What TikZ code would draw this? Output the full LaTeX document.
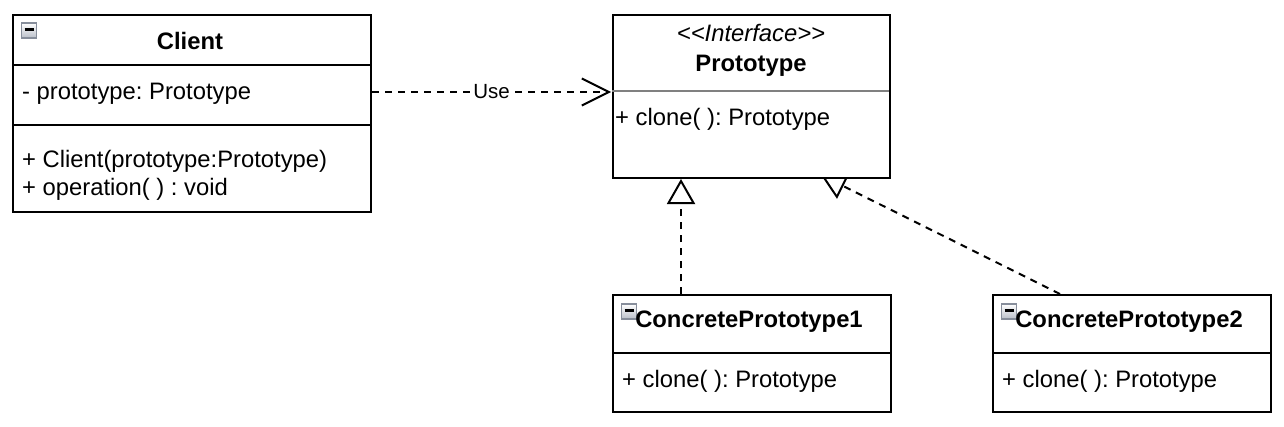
\documentclass[tikz,border=0pt]{standalone}
\usepackage{fontspec}
\setmainfont{Liberation Sans}
\usetikzlibrary{arrows.meta}
\pgfdeclarelayer{background}
\pgfsetlayers{background,main}
\definecolor{icoborder}{RGB}{135,142,155}
\definecolor{icofill}{RGB}{185,190,200}
\definecolor{divgray}{RGB}{128,128,128}
\newcommand\foldicon[1]{%
  \shade[top color=white, bottom color=icofill, draw=icoborder, line width=1.5pt] (#1) rectangle ++(15,15);
  \draw[line width=2.5pt, black] (#1) ++(3,6.5) -- ++(9,0);}
\frenchspacing
\begin{document}
\begin{tikzpicture}[x=1pt,y=-1pt,
  umlbox/.style={draw=black, line width=2pt, fill=white, rectangle, inner sep=0pt, anchor=north west},
  txt/.style={inner sep=0pt, font=\fontsize{23.8}{28}\selectfont},
  txtb/.style={inner sep=0pt, font=\fontsize{23.8}{28}\selectfont\bfseries},
  txti/.style={inner sep=0pt, font=\fontsize{23.8}{28}\selectfont\itshape},
  divider/.style={line width=2pt, black},
  dep/.style={line width=2pt, dash pattern=on 7pt off 6pt},
  realize/.style={dep, -{Triangle[length=25pt,width=28pt,fill=white]}},
  use/.style={dep, -{Straight Barb[length=27pt,width=27pt]}},
  lbl/.style={fill=white, inner sep=1pt, font=\fontsize{20.5}{24}\selectfont}
]
\useasboundingbox (0,0) rectangle (1284,426);
\begin{pgfonlayer}{background}
  \fill[white] (0,0) rectangle (1284,426);
\end{pgfonlayer}

% boxes
\node[umlbox, minimum width=358pt, minimum height=197pt] (client) at (12,14) {};
\node[umlbox, minimum width=277pt, minimum height=163pt] (proto) at (612,14) {};
\node[umlbox, minimum width=278pt, minimum height=117pt] (cp1) at (612,294) {};
\node[umlbox, minimum width=278pt, minimum height=117pt] (cp2) at (992,294) {};

% compartments
\draw[divider] (12,65) -- (370,65);
\draw[divider] (12,125) -- (370,125);
\draw[line width=2pt, divgray] (612,91) -- (889,91);
\draw[divider] (612,352.5) -- (890,352.5);
\draw[divider] (992,352.5) -- (1270,352.5);

% icons
\foldicon{21.5,23}
\foldicon{621.5,304}
\foldicon{1001.5,304}

% texts
\node[txtb, anchor=base] (clientname) at (190,49) {Client};
\node[txt, anchor=base west] (clientattr) at (22,99) {- prototype: Prototype};
\node[txt, anchor=base west] (clientop1) at (22,167) {+ Client(prototype:Prototype)};
\node[txt, anchor=base west] (clientop2) at (22,195) {+ operation( ) : void};

\node[txti, anchor=base] (stereo) at (751,41) {<{}<Interface>{}>};
\node[txtb, anchor=base] (protoname) at (751,71) {Prototype};
\node[txt, anchor=base west] (protoop) at (615,125) {+ clone( ): Prototype};

\node[txtb, anchor=base] (cp1name) at (749,327) {ConcretePrototype1};
\node[txt, anchor=base west] (cp1op) at (622,387) {+ clone( ): Prototype};

\node[txtb, anchor=base] (cp2name) at (1129,327) {ConcretePrototype2};
\node[txt, anchor=base west] (cp2op) at (1002,387) {+ clone( ): Prototype};

% connector end points
\path (client.north east) ++(0,78) coordinate (usea);
\path (proto.north west) ++(-1,78) coordinate (useb);
\path (cp1.north west) ++(69,0) coordinate (r1a);
\path (proto.south west) ++(69,0) coordinate (r1b);
\path (cp2.north west) ++(68,0) coordinate (r2a);
\path (proto.south west) ++(209,-4) coordinate (r2b);

\begin{pgfonlayer}{background}
  \draw[use] (usea) -- node[lbl] (uselbl) {Use} (useb);
  \draw[realize] (r1a) -- (r1b);
  \draw[realize] (r2a) -- (r2b);
\end{pgfonlayer}
\end{tikzpicture}
\end{document}
